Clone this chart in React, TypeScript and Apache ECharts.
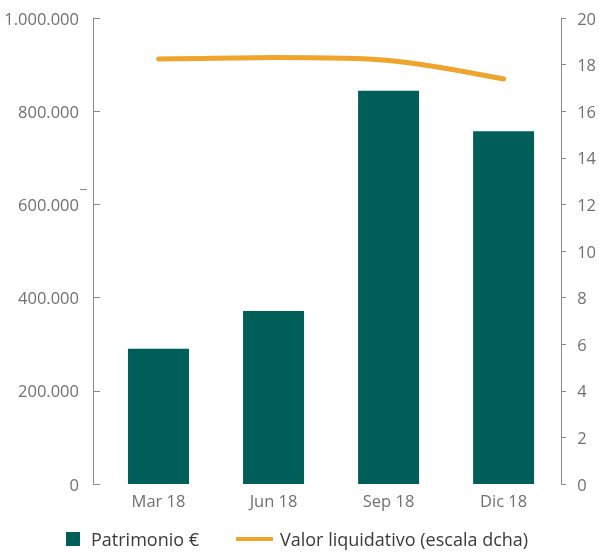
import React, { useEffect, useRef } from "react";
import * as echarts from "echarts";

const categories = ["Mar 18", "Jun 18", "Sep 18", "Dic 18"];
const patrimonio = [290000, 371000, 844000, 757000];
const valorLiquidativo = [18.24, 18.3, 18.18, 17.38];
const leftTicks = { min: 0, max: 1000000, interval: 200000 };
const rightTicks = { min: 0, max: 20, interval: 2 };

const fmtThousands = (v: number) =>
  String(Math.round(v)).replace(/\B(?=(\d{3})+(?!\d))/g, ".");

export default function App() {
  const ref = useRef<HTMLDivElement>(null);
  useEffect(() => {
    if (!ref.current) return;
    const chart = echarts.init(ref.current, undefined, { renderer: "svg" });
    const font = "'Open Sans', sans-serif";
    const axisGray = "#8a8a8a";
    const labelGray = "#707070";
    chart.setOption({
      animation: false,
      textStyle: { fontFamily: font },
      grid: { left: 101, right: 37, top: 18, bottom: 68 },
      legend: [
        {
          left: 66,
          top: 530,
          padding: 0,
          itemWidth: 14,
          itemHeight: 14,
          icon: "rect",
          data: ["Patrimonio €"],
          textStyle: { fontFamily: font, fontSize: 18, color: "#3a3a3a", padding: [0, 0, 0, 6] },
        },
        {
          left: 236,
          top: 530,
          padding: 0,
          itemWidth: 37,
          itemHeight: 4,
          icon: "rect",
          data: ["Valor liquidativo (escala dcha)"],
          textStyle: { fontFamily: font, fontSize: 18, color: "#3a3a3a", padding: [0, 0, 0, 2] },
        },
      ],
      xAxis: {
        type: "category",
        data: categories,
        axisLine: { show: false },
        axisTick: { show: false },
        axisLabel: { color: labelGray, fontSize: 16.5, fontFamily: font, margin: 8 },
      },
      yAxis: [
        {
          type: "value",
          position: "left",
          offset: 8,
          min: leftTicks.min,
          max: leftTicks.max,
          interval: leftTicks.interval,
          splitLine: { show: false },
          axisLine: { show: true, lineStyle: { color: axisGray, width: 1 } },
          axisTick: { show: true, inside: true, length: 7, lineStyle: { color: axisGray } },
          axisLabel: {
            color: labelGray,
            fontSize: 16.5,
            fontFamily: font,
            margin: 14,
            formatter: (v: number) => fmtThousands(v),
          },
        },
        {
          type: "value",
          position: "right",
          min: rightTicks.min,
          max: rightTicks.max,
          interval: rightTicks.interval,
          splitLine: { show: false },
          axisLine: { show: true, lineStyle: { color: axisGray, width: 1 } },
          axisTick: { show: true, inside: false, length: 5, lineStyle: { color: axisGray } },
          axisLabel: { color: labelGray, fontSize: 16.5, fontFamily: font, margin: 16 },
        },
      ],
      series: [
        {
          name: "Patrimonio €",
          type: "bar",
          data: patrimonio,
          barWidth: 61,
          itemStyle: { color: "#005e59" },
          yAxisIndex: 0,
        },
        {
          name: "Valor liquidativo (escala dcha)",
          type: "line",
          data: valorLiquidativo,
          yAxisIndex: 1,
          smooth: 0.3,
          showSymbol: false,
          symbol: "none",
          lineStyle: { color: "#efa42c", width: 5, cap: "round" },
          itemStyle: { color: "#efa42c" },
        },
      ],
      graphic: [
        {
          type: "line",
          shape: { x1: 80, y1: 189.5, x2: 87, y2: 189.5 },
          style: { stroke: axisGray, lineWidth: 1 },
        },
      ],
    });
    return () => chart.dispose();
  }, []);
  return (
    <div
      ref={ref}
      style={{ position: "fixed", left: 0, top: 0, width: 599, height: 552 }}
    />
  );
}
